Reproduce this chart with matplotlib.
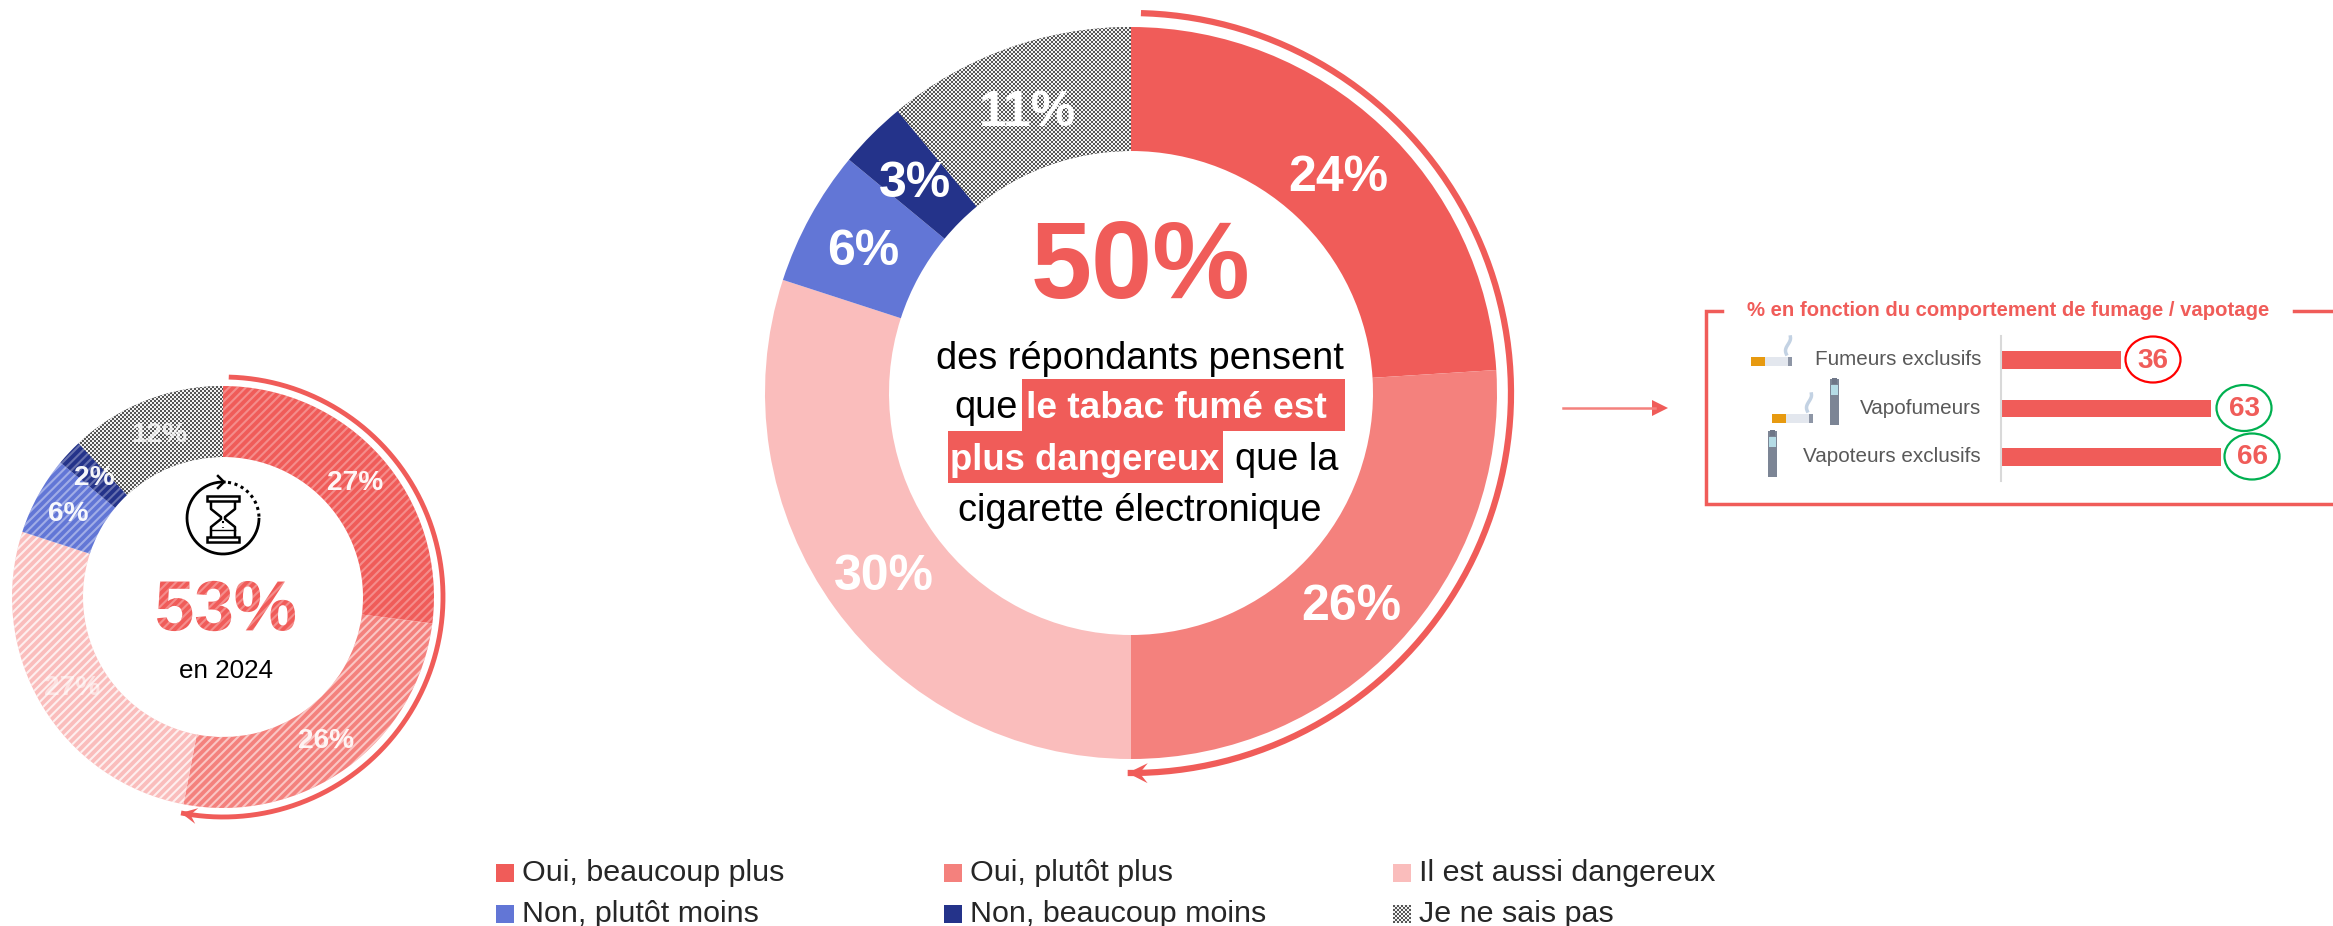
import numpy as np
import matplotlib
matplotlib.use('Agg')
import matplotlib.pyplot as plt
from matplotlib.font_manager import FontProperties
from matplotlib.patches import Rectangle, Ellipse, Polygon, PathPatch
from matplotlib.textpath import TextPath
from matplotlib.transforms import Affine2D, IdentityTransform

W, H = 2333, 926

main_values = [24, 26, 30, 6, 3, 11]
old_values = [27, 26, 27, 6, 2, 12]
categories = ['Oui, beaucoup plus', 'Oui, plutôt plus', 'Il est aussi dangereux',
              'Non, plutôt moins', 'Non, beaucoup moins', 'Je ne sais pas']
colors = ['#F05C59', '#F4817D', '#FABDBC', '#6276D6', '#24338A', '#8c8c8c']

behaviours = ['Fumeurs exclusifs', 'Vapofumeurs', 'Vapoteurs exclusifs']
behaviour_values = [36, 63, 66]
circle_colors = ['#ff0000', '#00b050', '#00b050']

RED = '#F05C59'
SANS = 'Liberation Sans'
plt.rcParams['font.family'] = SANS
plt.rcParams['hatch.linewidth'] = 1.5


def px(size):
    return size / 1.3889


def checker(ax, wedge, n, light='#f2f2f2', dark='#555555'):
    grid = (np.indices((n, n)).sum(axis=0) % 2).astype(float)
    cmap = matplotlib.colors.ListedColormap([dark, light])
    xl, yl = ax.get_xlim(), ax.get_ylim()
    im = ax.imshow(grid, extent=(xl[0], xl[1], yl[0], yl[1]), cmap=cmap,
                   interpolation='nearest', aspect='auto', zorder=3)
    im.set_clip_path(wedge)
    ax.set_xlim(xl)
    ax.set_ylim(yl)


def donut(cx, cy, r, inner, values, hatched=False):
    a = fig.add_axes([(cx - r) / W, 1 - (cy + r) / H, 2 * r / W, 2 * r / H])
    a.patch.set_visible(False)
    wedges, _ = a.pie(values, colors=colors, startangle=90, counterclock=False,
                      radius=1, wedgeprops=dict(width=1 - inner / r, linewidth=0))
    a.set_xlim(-1, 1)
    a.set_ylim(-1, 1)
    checker(a, wedges[-1], r)
    if hatched:
        alphas = [0.3, 0.55, 0.75, 0.4, 0.3]
        for w, al in zip(wedges[:-1], alphas):
            w.set_hatch('////')
            w.set_edgecolor((1, 1, 1, al))
    return a


def ring_arrow(cx, cy, r, start, end, lw=4, head=16):
    # angles clockwise from 12 o'clock
    t = np.radians(np.linspace(start, end, 200))
    ov.plot(cx + r * np.sin(t), cy - r * np.cos(t), color=RED, lw=lw, solid_capstyle='butt')
    tip = np.array([cx + r * np.sin(t[-1]), cy - r * np.cos(t[-1])])
    fwd = np.array([np.cos(t[-1]), np.sin(t[-1])])
    nrm = np.array([-fwd[1], fwd[0]])
    ov.add_patch(Polygon([tip, tip - fwd * head + nrm * head * 0.5, tip - fwd * head * 0.6,
                          tip - fwd * head - nrm * head * 0.5], color=RED, lw=0))


def hatched_text(s, x, y, size):
    fp = FontProperties(family=SANS, weight='bold')
    tp = TextPath((0, 0), s, size=size, prop=fp)
    bb = tp.get_extents()
    tr = Affine2D().translate(x - bb.width / 2 - bb.x0, H - y - bb.height / 2 - bb.y0)
    ov.add_patch(PathPatch(tp, transform=tr + IdentityTransform(), facecolor=RED,
                           edgecolor=(1, 1, 1, 0.3), hatch='////', lw=0, zorder=6))


def cigarette(x, y):
    ov.add_patch(Rectangle((x, y), 14, 9, color='#E79A10', lw=0))
    ov.add_patch(Rectangle((x + 14, y), 23, 9, color='#E3E7EE', lw=0))
    ov.add_patch(Rectangle((x + 37, y), 4, 9, color='#8E96A6', lw=0))
    yy = np.linspace(y - 20, y - 3, 30)
    ov.plot(x + 37 + 2.5 * np.sin((yy - y) / 4), yy, color='#C3D2E3', lw=2.5)


def vape(x, y):
    ov.add_patch(Rectangle((x, y), 9, 46, color='#7C8595', lw=0))
    ov.add_patch(Rectangle((x + 1, y + 6), 7, 10, color='#B5DCE6', lw=0))
    ov.add_patch(Rectangle((x + 2, y - 1), 5, 6, color='#6E7687', lw=0))


def hourglass(cx, cy, r):
    t = np.radians(np.linspace(2, -268, 150))
    ov.plot(cx + r * np.sin(t), cy - r * np.cos(t), color='black', lw=2)
    t2 = np.radians(np.linspace(8, 92, 30))
    ov.plot(cx + r * np.sin(t2), cy - r * np.cos(t2), color='black', lw=2.2, ls=(0, (1, 1.2)))
    ov.plot([cx - 5, cx + 1, cx - 5], [cy - r - 6, cy - r, cy - r + 6], color='black', lw=1.8)
    for dy in (-22, 19):
        ov.add_patch(Rectangle((cx - 16, cy + dy), 32, 5, fc='white', ec='black', lw=1.8, zorder=5))
    ov.plot([cx - 12, cx - 12, cx - 2, cx - 2, cx - 12, cx - 12],
            [cy - 17, cy - 9, cy - 1, cy + 1, cy + 9, cy + 19], color='black', lw=1.8)
    ov.plot([cx + 12, cx + 12, cx + 2, cx + 2, cx + 12, cx + 12],
            [cy - 17, cy - 9, cy - 1, cy + 1, cy + 9, cy + 19], color='black', lw=1.8)
    ov.plot([cx - 12, cx + 12], [cy + 12, cy + 12], color='black', lw=1)
    ov.plot([cx, cx], [cy + 3, cy + 10], color='black', lw=1.5, ls=(0, (1, 2)))


fig = plt.figure(figsize=(W / 100, H / 100), dpi=100, facecolor='white')

donut(1131, 393, 366, 242, main_values)
donut(223, 597, 211, 140, old_values, hatched=True)

ov = fig.add_axes([0, 0, 1, 1], zorder=10)
ov.set_xlim(0, W)
ov.set_ylim(H, 0)
ov.axis('off')
ov.patch.set_visible(False)

# arcs
ring_arrow(1131, 393, 380, 1.5, 180.5, lw=4.5, head=20)
ring_arrow(223, 597, 220, 1.5, 191, lw=3.5, head=16)

# main donut labels
main_pos = [(1338, 178), (1351, 607), (884, 577), (863, 252), (915, 184), (1028, 113)]
for v, (x, y) in zip(main_values, main_pos):
    ov.text(x, y, f'{v}%', color='white', fontsize=px(50), fontweight='bold', ha='center', va='center')

ov.text(1140, 270, '50%', color=RED, fontsize=79, fontweight='bold', ha='center', va='center')

# centre sentence
fs = px(38)
ov.add_patch(Rectangle((1022, 379), 323, 52, color=RED, lw=0))
ov.add_patch(Rectangle((948, 431), 275, 52, color=RED, lw=0))
ov.text(1140, 359, 'des répondants pensent', fontsize=fs, ha='center', va='center')
ov.text(1018, 408, 'que', fontsize=fs, ha='right', va='center')
ov.text(1026, 408, 'le tabac fumé est', fontsize=px(37), ha='left', va='center', color='white', fontweight='bold')
ov.text(950, 460, 'plus dangereux', fontsize=px(36.5), ha='left', va='center', color='white', fontweight='bold')
ov.text(1235, 460, 'que la', fontsize=fs, ha='left', va='center')
ov.text(1140, 511, 'cigarette électronique', fontsize=fs, ha='center', va='center')

# old donut labels
old_pos = [(355, 483), (326, 741), (72, 688), (68, 514), (94, 478), (159, 435)]
old_alpha = [0.95, 0.9, 0.55, 0.95, 0.95, 0.8]
for v, (x, y), al in zip(old_values, old_pos, old_alpha):
    ov.text(x, y, f'{v}%', color='white', alpha=al, fontsize=px(28), fontweight='bold', ha='center', va='center')

hourglass(223, 518, 36)
hatched_text('53%', 226, 606, 71)
ov.text(226, 671, 'en 2024', fontsize=px(26), ha='center', va='center', color='black')

# legend
leg_x = [496, 944, 1393]
leg_y = [873, 914]
for i, (name, c) in enumerate(zip(categories, colors)):
    x, y = leg_x[i % 3], leg_y[i // 3]
    if i == 5:
        n = 9
        g = (np.indices((n, n)).sum(axis=0) % 2).astype(float)
        ov.imshow(g, extent=(x, x + 18, y + 9, y - 9), cmap=matplotlib.colors.ListedColormap(['#555555', '#f2f2f2']),
                  interpolation='nearest', aspect='auto')
        ov.set_xlim(0, W)
        ov.set_ylim(H, 0)
    else:
        ov.add_patch(Rectangle((x, y - 9), 18, 18, color=c, lw=0))
    ov.text(x + 26, y, name, fontsize=px(30.5), ha='left', va='center', color='#262626')

# right panel
ov.plot([1722, 1706, 1706, 2333], [311, 311, 504, 504], color=RED, lw=2.5, solid_joinstyle='miter')
ov.plot([2294, 2333], [311, 311], color=RED, lw=2.5)
ov.text(2008, 311, '% en fonction du comportement de fumage / vapotage', color=RED,
        fontsize=px(20.3), fontweight='bold', ha='center', va='center')
ov.plot([1563, 1655], [408, 408], color='#F4817D', lw=1.8)
ov.add_patch(Polygon([[1652, 400], [1668, 408], [1652, 416]], color=RED, lw=0))

bar_ax = fig.add_axes([2001 / W, 1 - 481 / H, 320 / W, 145 / H], zorder=9)
bar_ax.patch.set_visible(False)
bar_pos = [0, 1, 2]
bar_ax.barh(bar_pos, behaviour_values, height=0.36, color=RED)
bar_ax.set_xlim(0, 320 / 3.33)
bar_ax.set_ylim(2.49, -0.49)
bar_ax.axis('off')

ov.plot([2001, 2001], [336, 481], color='#d9d9d9', lw=1.5)
row_y = [359.5, 408, 456.5]
ell_x = [2153, 2244, 2252]
for name, v, y, ex, ec in zip(behaviours, behaviour_values, row_y, ell_x, circle_colors):
    ov.text(1981, y, name, color='#595959', fontsize=px(20.6), ha='right', va='center')
    ov.add_patch(Ellipse((ex, y), 55, 46, fc='white', ec=ec, lw=1.6, zorder=7))
    ov.text(ex, y + 1, str(v), color=RED, fontsize=px(28), fontweight='bold', ha='center', va='center', zorder=8)

cigarette(1751, 357)
cigarette(1772, 414)
vape(1830, 379)
vape(1768, 431)

fig.savefig('out.png', dpi=100)
